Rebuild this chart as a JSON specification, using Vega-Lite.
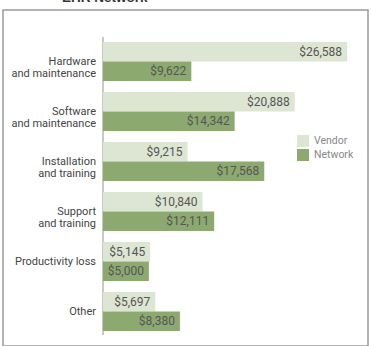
{
  "$schema": "https://vega.github.io/schema/vega-lite/v6.json",
  "width": 365,
  "height": 336,
  "padding": {"left": 3, "top": 10, "right": 3, "bottom": 0},
  "autosize": {"type": "none"},
  "title": {"text": "EHR Network", "anchor": "start", "dx": 59, "offset": 0, "dy": 5, "baseline": "alphabetic", "fontSize": 13.5, "font": "Liberation Sans", "fontWeight": "bold", "color": "#333333"},
  "config": {"view": {"stroke": "#9a9a9a", "strokeWidth": 1.5}, "font": "Roboto"},
  "data": {"values": [
    {"category": "Hardware\nand maintenance", "series": "Vendor", "value": 26588},
    {"category": "Hardware\nand maintenance", "series": "Network", "value": 9622},
    {"category": "Software\nand maintenance", "series": "Vendor", "value": 20888},
    {"category": "Software\nand maintenance", "series": "Network", "value": 14342},
    {"category": "Installation\nand training", "series": "Vendor", "value": 9215},
    {"category": "Installation\nand training", "series": "Network", "value": 17568},
    {"category": "Support\nand training", "series": "Vendor", "value": 10840},
    {"category": "Support\nand training", "series": "Network", "value": 12111},
    {"category": "Productivity loss", "series": "Vendor", "value": 5145},
    {"category": "Productivity loss", "series": "Network", "value": 5000},
    {"category": "Other", "series": "Vendor", "value": 5697},
    {"category": "Other", "series": "Network", "value": 8380}
  ]},
  "resolve": {"scale": {"y": "independent"}},
  "layer": [
    {
      "mark": {"type": "rule", "color": "#c8c8c8", "strokeWidth": 1},
      "encoding": {
        "x": {"datum": 0, "type": "quantitative", "scale": {"domain": [-10893, 28867], "nice": false, "zero": false}, "axis": null},
        "y": {"datum": 0, "type": "quantitative", "scale": {"domain": [-0.03691, 1.0906], "nice": false, "zero": false}, "axis": null},
        "y2": {"datum": 1}
      }
    },
    {
      "layer": [
        {
          "mark": {"type": "bar"},
          "encoding": {
            "y": {"field": "category", "type": "nominal", "sort": null, "scale": {"paddingInner": 0.22, "paddingOuter": 0.47, "align": 0.681}, "axis": null},
            "yOffset": {"field": "series", "type": "nominal", "sort": ["Vendor", "Network"], "scale": {"paddingInner": 0, "paddingOuter": 0}},
            "x": {"field": "value", "type": "quantitative", "scale": {"domain": [-10893, 28867], "nice": false, "zero": false}, "axis": null},
            "x2": {"datum": 0},
            "color": {"field": "series", "type": "nominal", "sort": ["Vendor", "Network"],
              "scale": {"domain": ["Vendor", "Network"], "range": ["#dde5d3", "#8caa6f"]},
              "legend": {"orient": "none", "legendX": 294, "legendY": 125, "title": null, "symbolType": "square", "symbolSize": 144, "symbolStrokeWidth": 0, "labelFontSize": 10.5, "labelColor": "#888888", "labelFont": "Roboto", "rowPadding": 2, "labelOffset": 5, "padding": 0}}
          }
        },
        {
          "mark": {"type": "text", "align": "right", "baseline": "middle", "dx": -5, "fontSize": 12, "color": "#555555"},
          "encoding": {
            "y": {"field": "category", "type": "nominal", "sort": null},
            "yOffset": {"field": "series", "type": "nominal", "sort": ["Vendor", "Network"]},
            "x": {"field": "value", "type": "quantitative"},
            "text": {"field": "value", "type": "quantitative", "format": "$,.0f"}
          }
        },
        {
          "transform": [{"filter": "datum.series === 'Vendor'"}],
          "mark": {"type": "text", "align": "right", "baseline": "middle", "dx": -7, "fontSize": 11, "lineBreak": "\n", "lineHeight": 12, "color": "#444444"},
          "encoding": {
            "y": {"field": "category", "type": "nominal", "sort": null},
            "x": {"datum": 0, "type": "quantitative"},
            "text": {"field": "category"}
          }
        }
      ]
    }
  ]
}
